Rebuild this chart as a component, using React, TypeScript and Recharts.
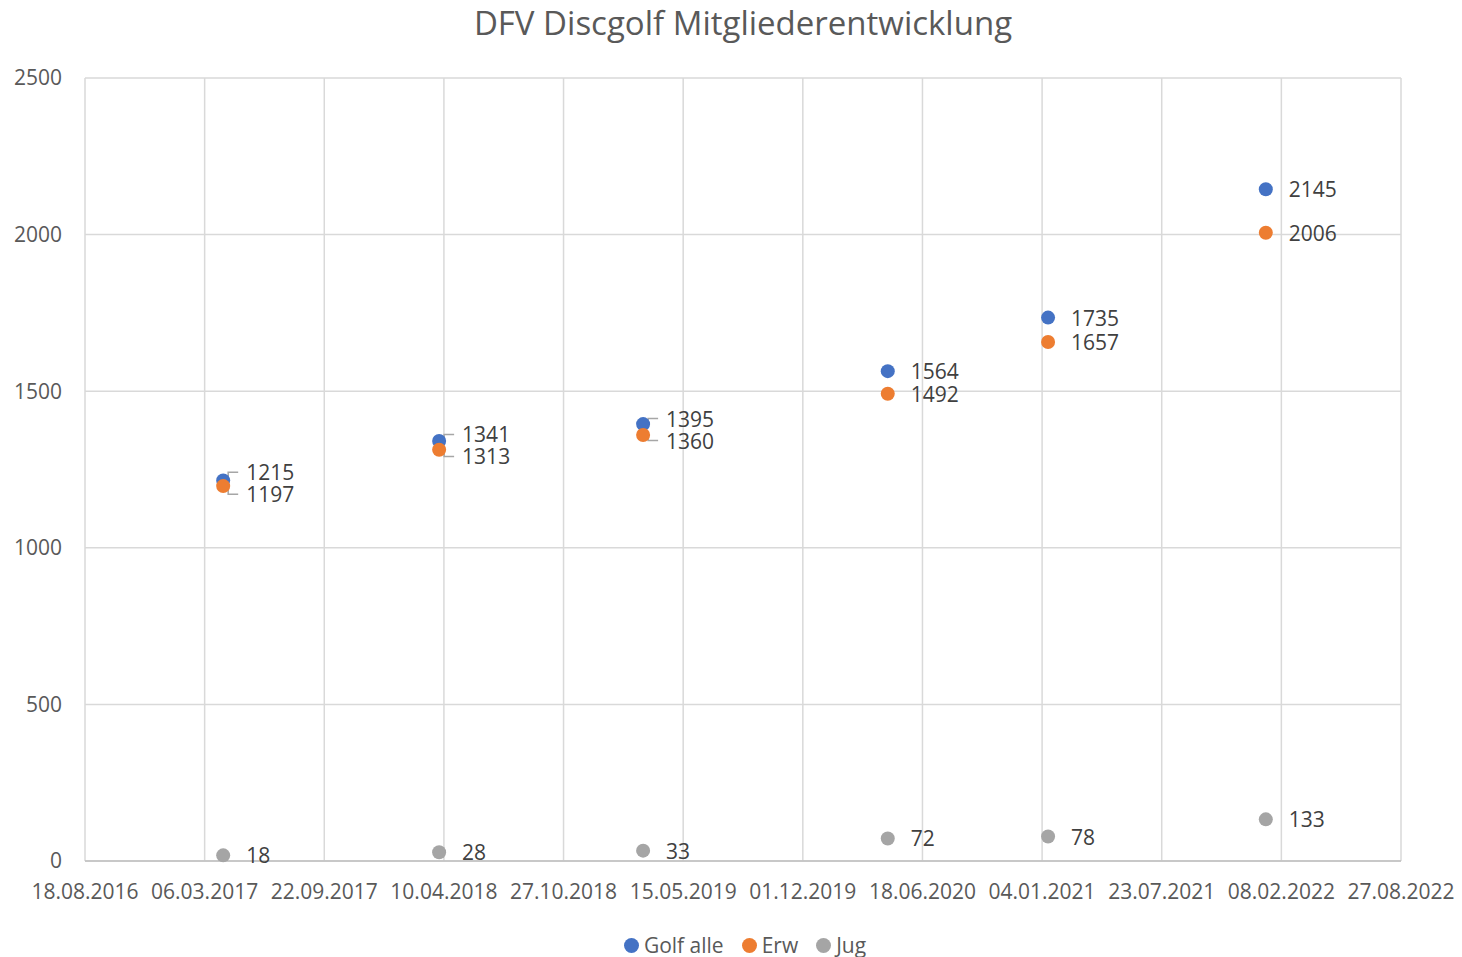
import { CartesianGrid, Scatter, ScatterChart, XAxis, YAxis } from "recharts";

// data
const dates = ["2017-04-06", "2018-04-02", "2019-03-09", "2020-04-21", "2021-01-14", "2022-01-13"];
const golfAlle = [1215, 1341, 1395, 1564, 1735, 2145];
const erw = [1197, 1313, 1360, 1492, 1657, 2006];
const jug = [18, 28, 33, 72, 78, 133];

const xTicks = [
  "2016-08-18", "2017-03-06", "2017-09-22", "2018-04-10", "2018-10-27", "2019-05-15",
  "2019-12-01", "2020-06-18", "2021-01-04", "2021-07-23", "2022-02-08", "2022-08-27",
];
const yTicks = [0, 500, 1000, 1500, 2000, 2500];

const seriesNames = ["Golf alle", "Erw", "Jug"];
const colors = ["#4472C4", "#ED7D31", "#A5A5A5"];

const W = 1462;
const H = 957;
const M = { top: 78, right: 61, bottom: 46, left: 15 };
const X_AXIS_H = 50;
const PLOT_H = H - M.top - M.bottom - X_AXIS_H;
const PX_PER_UNIT = PLOT_H / 2500;
const MIN_GAP = 22;
const FONT = "'Open Sans', sans-serif";

const toMs = (s: string) => {
  const [y, m, d] = s.split("-").map(Number);
  return Date.UTC(y, m - 1, d);
};
const fmtDate = (v: number) => {
  const d = new Date(v);
  const p = (n: number) => String(n).padStart(2, "0");
  return `${p(d.getUTCDate())}.${p(d.getUTCMonth() + 1)}.${d.getUTCFullYear()}`;
};

const tickMs = xTicks.map(toMs);
const series = [golfAlle, erw, jug].map((vals) =>
  vals.map((v, i) => ({ x: toMs(dates[i]), y: v, i }))
);

// circle + value label; labels of "Golf alle" and "Erw" get pushed apart when too close
function makeShape(s: number) {
  return (props: any) => {
    const { cx, cy, payload } = props;
    const i = payload.i;
    let ly = cy;
    if (s < 2) {
      const gap = (golfAlle[i] - erw[i]) * PX_PER_UNIT;
      if (gap < MIN_GAP) {
        const mid = s === 0 ? cy + gap / 2 : cy - gap / 2;
        ly = s === 0 ? mid - MIN_GAP / 2 : mid + MIN_GAP / 2;
      }
    }
    const shifted = Math.abs(ly - cy) > 2;
    return (
      <g>
        {shifted && (
          <path
            d={`M${cx + 5},${cy} L${cx + 5},${ly} L${cx + 15},${ly}`}
            fill="none"
            stroke="#A6A6A6"
            strokeWidth={1.5}
          />
        )}
        <circle cx={cx} cy={cy} r={7} fill={colors[s]} />
        <text
          x={cx + 23}
          y={ly}
          dominantBaseline="central"
          fontSize={21}
          fontFamily={FONT}
          fill="#404040"
        >
          {payload.y}
        </text>
      </g>
    );
  };
}

export default function App() {
  return (
    <div style={{ position: "absolute", left: 0, top: 0, width: W, height: H, background: "#fff", fontFamily: FONT }}>
      <div
        style={{
          position: "absolute",
          top: 0,
          left: 85,
          width: 1316,
          textAlign: "center",
          fontSize: 33,
          color: "#595959",
        }}
      >
        DFV Discgolf Mitgliederentwicklung
      </div>
      <ScatterChart width={W} height={H} margin={M}>
        <CartesianGrid stroke="#D9D9D9" strokeWidth={1.5} />
        <XAxis
          type="number"
          dataKey="x"
          domain={[tickMs[0], tickMs[tickMs.length - 1]]}
          ticks={tickMs}
          tickFormatter={fmtDate}
          height={X_AXIS_H}
          tickLine={false}
          tickSize={0}
          tickMargin={23}
          stroke="#BFBFBF"
          strokeWidth={1.5}
          tick={{ fill: "#595959", fontSize: 21, fontFamily: FONT }}
          allowDataOverflow
        />
        <YAxis
          type="number"
          dataKey="y"
          domain={[0, 2500]}
          ticks={yTicks}
          width={70}
          axisLine={false}
          tickLine={false}
          tickSize={0}
          tickMargin={23}
          tick={{ fill: "#595959", fontSize: 21, fontFamily: FONT }}
        />
        {series.map((data, s) => (
          <Scatter
            key={seriesNames[s]}
            name={seriesNames[s]}
            data={data}
            fill={colors[s]}
            shape={makeShape(s)}
            isAnimationActive={false}
          />
        ))}
      </ScatterChart>
      <div
        style={{
          position: "absolute",
          top: 931,
          left: 0,
          width: W,
          display: "flex",
          justifyContent: "center",
          gap: 18,
          fontSize: 21,
          color: "#595959",
          paddingLeft: 28,
          boxSizing: "border-box",
        }}
      >
        {seriesNames.map((n, s) => (
          <span key={n} style={{ display: "flex", alignItems: "center", gap: 5, lineHeight: "28px" }}>
            <span style={{ width: 15, height: 15, borderRadius: 8, background: colors[s], display: "inline-block" }} />
            {n}
          </span>
        ))}
      </div>
    </div>
  );
}
